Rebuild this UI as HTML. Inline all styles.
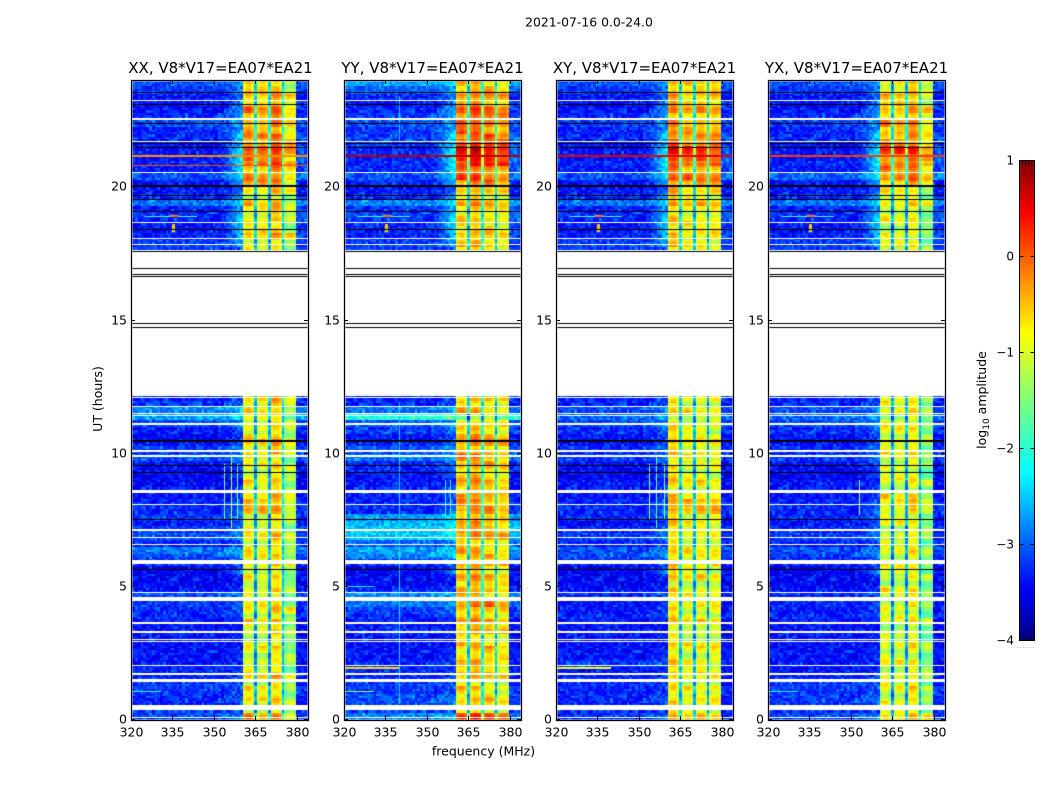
<!DOCTYPE html>
<html lang="en">
<head>
<meta charset="utf-8">
<title>2021-07-16 0.0-24.0 waterfall</title>
<style>
html,body{margin:0;padding:0;background:#fff;}
#figure{position:relative;width:1050px;height:800px;overflow:hidden;background:#fff;font-family:"DejaVu Sans","Liberation Sans",sans-serif;}
#figure canvas{position:absolute;display:block;}
#figure svg{position:absolute;left:0;top:0;}
text{font-family:"DejaVu Sans","Liberation Sans",sans-serif;fill:#000;}
</style>
</head>
<body>
<div id="figure">
<svg id="overlay" width="1050" height="800" viewBox="0 0 1050 800">
  <defs>
    <linearGradient id="jetGradient" x1="0" y1="1" x2="0" y2="0">
      <stop offset="0" stop-color="#00007f"/>
      <stop offset="0.11" stop-color="#0000ff"/>
      <stop offset="0.35" stop-color="#00ffff"/>
      <stop offset="0.5" stop-color="#7dff7a"/>
      <stop offset="0.64" stop-color="#ffff00"/>
      <stop offset="0.89" stop-color="#ff0000"/>
      <stop offset="1" stop-color="#7f0000"/>
    </linearGradient>
  </defs>
  <text x="589" y="26.5" font-size="12.4" text-anchor="middle">2021-07-16 0.0-24.0</text>
  <text x="483.5" y="755.5" font-size="12.5" text-anchor="middle">frequency (MHz)</text>
  <text x="102" y="399" font-size="12.5" text-anchor="middle" transform="rotate(-90 102 399)">UT (hours)</text>
  <text x="986" y="400" font-size="12.5" text-anchor="middle" transform="rotate(-90 986 400)">log<tspan font-size="9" dy="3">10</tspan><tspan dy="-3"> amplitude</tspan></text>
  <rect x="1019.5" y="160.5" width="15" height="480" fill="url(#jetGradient)" stroke="#000" stroke-width="1"/>
  <text x="1026" y="648" font-size="7" fill="#888" text-anchor="middle" style="fill:#888;letter-spacing:1px">......</text>
</svg>
</div>
<script>
/* ---------- axis ranges and tick labels ---------- */
var panelTitles = ["XX, V8*V17=EA07*EA21","YY, V8*V17=EA07*EA21","XY, V8*V17=EA07*EA21","YX, V8*V17=EA07*EA21"];
var panelNames = ["xx","yy","xy","yx"];
var freqTicks = [320,335,350,365,380];
var hourTicks = [0,5,10,15,20];
var colorbarTicks = [1,0,-1,-2,-3,-4];

/* ---------- background level per quarter hour (log10 amplitude), 96 rows from 0 UT ---------- */
var bgXX = [-2.9,-3.0,-3.1,-3.1, -3.0,-3.0,-3.1,-3.1, -3.2,-3.2,-3.2,-3.2, -3.2,-3.2,-3.2,-3.1, -3.1,-3.0,-2.9,-3.2, -3.3,-3.3,-3.3,-3.1,
 -2.9,-2.7,-3.1,-2.9, -3.0,-3.2,-3.0,-3.1, -3.1,-3.2,-3.2,-3.3, -3.3,-3.3,-3.2,-2.9, -3.0,-3.2,-3.3,-3.2, -2.9,-2.5,-2.6,-3.0, -3.1,-3.1,-3,-3,
 -3,-3,-3,-3, -3,-3,-3,-3, -3,-3,-3,-3, -3,-3,-3,-3, -3,-3,-3,-3, -3.1,-3.2,-3.2,-3.1, -3.1,-2.7,-3.1,-3.2, -3.2,-2.9,-3.2,-3.1, -3.2,-3.2,-3.2,-3.1, -3.1,-2.9,-3.1,-3.2, -3.2,-3.2,-3.0,-2.9];
var bgYY = [-2.6,-3.0,-2.9,-2.9, -3.0,-3.0,-3.1,-3.1, -3.1,-3.2,-3.2,-3.2, -3.2,-3.1,-3.2,-3.1, -3.0,-2.7,-2.6,-3.1, -3.3,-3.3,-3.3,-3.1,
 -2.6,-2.5,-2.8,-2.3, -2.3,-2.4,-2.5,-3.1, -3.1,-3.1,-3.1,-3.2, -3.2,-3.1,-3.1,-2.7, -2.9,-3.1,-3.2,-3.0, -2.8,-1.9,-2.7,-3.1, -3.1,-3,-3,-3,
 -3,-3,-3,-3, -3,-3,-3,-3, -3,-3,-3,-3, -3,-3,-3,-3, -3,-3,-3,-3, -3.1,-3.1,-3.1,-3.0, -3.0,-2.6,-3.1,-3.2, -3.1,-2.9,-3.1,-3.1, -3.1,-3.1,-3.0,-3.0, -3.0,-2.9,-3.0,-3.1, -3.2,-3.1,-2.8,-2.5];
var bgXY = [-3.0,-3.1,-3.1,-3.1, -3.1,-3.1,-3.1,-3.2, -3.0,-3.2,-3.2,-3.2, -3.2,-3.2,-3.2,-3.1, -3.2,-3.2,-3.1,-3.2, -3.3,-3.3,-3.3,-3.2,
 -2.9,-2.9,-3.1,-3.0, -3.1,-3.3,-3.1,-3.1, -3.1,-3.2,-3.2,-3.2, -3.3,-3.3,-3.2,-3.0, -3.1,-3.2,-3.2,-3.1, -2.9,-2.8,-2.9,-3.1, -3.1,-3,-3,-3,
 -3,-3,-3,-3, -3,-3,-3,-3, -3,-3,-3,-3, -3,-3,-3,-3, -3,-3,-3,-3, -3.1,-3.2,-3.2,-3.1, -3.1,-2.7,-3.1,-3.2, -3.2,-2.9,-3.2,-3.1, -3.2,-3.2,-3.2,-3.1, -3.1,-3.0,-3.1,-3.2, -3.2,-3.2,-3.0,-2.9];
var bgYX = [-2.9,-3.1,-3.0,-3.0, -3.0,-3.0,-3.1,-3.2, -3.2,-3.2,-3.2,-3.2, -3.2,-3.2,-3.2,-3.1, -3.2,-3.1,-3.1,-3.2, -3.3,-3.3,-3.3,-3.2,
 -3.0,-2.9,-3.1,-3.0, -3.1,-3.2,-3.1,-3.1, -3.1,-3.2,-3.2,-3.2, -3.3,-3.3,-3.2,-3.0, -3.1,-3.2,-3.2,-3.1, -2.9,-2.8,-2.9,-3.1, -3.1,-3,-3,-3,
 -3,-3,-3,-3, -3,-3,-3,-3, -3,-3,-3,-3, -3,-3,-3,-3, -3,-3,-3,-3, -3.1,-3.2,-3.2,-3.1, -3.1,-2.7,-3.1,-3.2, -3.2,-2.8,-3.2,-3.1, -3.2,-3.2,-3.2,-3.1, -3.1,-3.0,-3.1,-3.2, -3.2,-3.2,-3.0,-2.9];

/* ---------- band level per quarter hour, 96 rows from 0 UT ---------- */
var bandXX = [-.6,-1.0,-1.0,-.9, -.8,-1.0,-.8,-1.0, -1.0,-1.0,-1.0,-1.1, -1.0,-1.0,-.9,-1.0, -.7,-1.0,-1.0,-1.0, -1.0,-1.0,-.9,-.9,
 -.8,-.9,-.9,-.9, -.9,-1.0,-.9,-.7, -.5,-.8,-.9,-1.0, -.8,-.9,-.9,-.9, -.7,-.7,-.8,-.8, -1.0,-.9,-.8,-.7, -.9,-.9,-1,-1,
 -1,-1,-1,-1, -1,-1,-1,-1, -1,-1,-1,-1, -1,-1,-1,-1, -1,-1,-1,-.9, -.6,-.9,-.9,-.9, -.8,-.8,-.9,-.7, -.4,-.4,-.4,-.3, -.2,0,-.2,-.4, -.4,-.5,-.5,-.4, -.5,-.6,-.7,-.7];
var bandYY = [-.2,-.9,-.8,-.8, -.8,-.9,-.8,-.8, -.7,-.6,-.8,-.8, -.7,-.6,-.7,-.7, -.6,-.4,-.7,-.6, -.6,-.6,-.7,-.6,
 -.6,-.7,-.6,-.6, -.5,-.5,-.5,-.6, -.4,-.5,-.6,-.7, -.6,-.6,-.5,-.4, -.5,-.5,-.5,-.7, -.8,-1.3,-.7,-.7, -.9,-.9,-1,-1,
 -1,-1,-1,-1, -1,-1,-1,-1, -1,-1,-1,-1, -1,-1,-1,-1, -1,-1,-1,-.6, -.7,-.8,-.9,-.7, -.8,-.7,-.7,-.6, -.3,-.2,-.1,.0, .2,.3,.2,-.3, -.2,-.2,-.2,-.3, -.4,-.4,-.6,-.6];
var bandXY = [-.8,-.9,-.9,-.9, -.9,-.9,-.8,-.9, -.9,-.9,-.9,-.9, -.9,-.9,-.9,-.9, -.9,-.9,-.9,-.9, -.9,-.8,-.9,-.8,
 -.8,-.9,-.8,-.9, -.9,-.8,-.8,-.6, -.5,-.8,-.8,-.9, -.9,-.9,-.9,-.9, -.7,-.7,-.9,-.9, -1.0,-1.0,-.9,-.9, -.9,-.9,-1,-1,
 -1,-1,-1,-1, -1,-1,-1,-1, -1,-1,-1,-1, -1,-1,-1,-1, -1,-1,-1,-.8, -.8,-.8,-.8,-.8, -.7,-.7,-.7,-.6, -.3,-.3,-.3,-.1, 0,.1,0,-.4, -.4,-.5,-.5,-.5, -.5,-.6,-.6,-.6];
var bandYX = [-.7,-1.0,-1.0,-1.0, -.9,-1.0,-.9,-1.0, -1.0,-1.0,-1.0,-1.0, -1.0,-1.1,-1.0,-1.0, -1.0,-1.0,-1.0,-1.0, -1.0,-1.0,-1.0,-1.0,
 -1.0,-1.0,-1.0,-1.0, -1.0,-1.0,-.9,-.9, -.7,-.9,-1.0,-1.0, -1.0,-1.0,-1.0,-1.0, -.9,-.9,-1.0,-.9, -1.0,-1.0,-1.0,-.9, -1.0,-1.0,-1,-1,
 -1,-1,-1,-1, -1,-1,-1,-1, -1,-1,-1,-1, -1,-1,-1,-1, -1,-1,-1,-1.0, -1.0,-1.1,-1.1,-1.0, -.9,-.8,-.9,-.8, -.4,-.4,-.3,-.2, -.1,0,-.1,-.5, -.5,-.5,-.5,-.5, -.6,-.6,-.7,-.8];

/* ---------- rise of the background next to the band, per quarter hour ---------- */
var edgeRise = [.2,.1,.2,.2, .1,.1,.1,.1, .1,.1,.1,.1, .1,.1,.1,.1, .2,.2,.2,.1, .1,.2,.6,.3,
 .3,.3,.2,.3, .3,.3,.3,.3, .3,.3,.3,.2, .3,.3,.3,.3, .3,.3,.3,.3, .3,.4,.3,.2, .2,.2,0,0,
 0,0,0,0, 0,0,0,0, 0,0,0,0, 0,0,0,0, 0,0,0,.5, .7,.9,.9,.8, .6,.6,.6,.5, .6,.7,1.0,1.1, 1.2,1.1,.8,.9, .6,.5,.5,.7, .6,.4,.3,.4];
var edgeChannels = [33,34,35,36,37,38,39,40];
var edgeRamp = [.05,.15,.25,.4,.55,.7,.85,1];

/* ---------- spectral shape of the band, channels 41..59 (361..379 MHz) ---------- */
var bandShape = [-.15,0,0,-.2,-1.7,-.2,0,0,-.15,-1.6,-.15,0,0,-.2,-1.7,-.2,0,0,-.1];
var subbandXX = [.1,0,.1,-.3];
var subbandYY = [.1,.1,.1,-.1];
var subbandXY = [.05,0,0,-.2];
var subbandYX = [.05,0,0,-.35];

/* ---------- hand-read residual texture ---------- */
var speckle = [.2,-.4,.1,.5,-.2,-.5,.3,0,.7,-.3,-.1,.4,-.6,.2,.1,-.3,.5,-.4,.9,-.2,0,.3,-.5,.1,-.1,.6,-.3,.2,-.6,.4,0,-.2,.8,-.4,.1,.3,-.5,-.1,.5,-.3,.2,-.6,1.0,-.2,.1,-.4,.3,-.1,.6,-.5,0,.2,-.3,.4,-.2,.7,-.6,.1,-.1,.3,-.4];
var bandStreak = [.15,.25,.05,-.1,-.2,-.1,.1,.3,.2,-.05,-.2,-.25,0,.2,.05,-.15,-.2,.1,.3,.15,-.1,-.2,0];
var blockWobble = [.25,-.1,.1,-.25,.2,0,-.2,.3,-.15,.05,.2,-.2,.1,-.05,.25,-.25,.15,0,-.1,.2,-.2];

/* ---------- flagged (white) intervals in hours ---------- */
var whiteBands = [[.37,.56],[.07,.11],[1.44,1.52],[1.7,1.75],[2.03,2.08],[2.92,2.96],[3.01,3.05],[3.28,3.35],[3.61,3.66],[4.48,4.63],[4.76,4.8],[5.84,6.0],[6.55,6.6],[6.83,6.88],[7.1,7.15],[8.05,8.11],[8.53,8.61],[9.88,9.92],[10.05,10.13],[11.08,11.14],[11.39,11.43],[11.46,11.5],[11.72,11.77],[12.07,12.11],[12.15,17.62],[17.81,17.86],[18.02,18.07],[18.64,18.69],[20.52,20.56],[21.68,21.73],[22.51,22.56],[23.2,23.24]];
/* ---------- black rule lines in hours ---------- */
var blackLines = [5.67,7.55,9.3,9.56,10.49,14.75,14.9,16.65,16.72,16.95,17.58,18.43,19.1,19.54,19.68,20.06,21.5,21.63,22.4,23.1,23.55];
var thickBlackLines = [10.49,20.06];

/* ---------- narrow features: panel, first MHz, last MHz, first hour, last hour, level ---------- */
var featurePanel = [0,1,2,3,0, 0,0,0, 2,2,2, 1,1,1, 3, 0,1,2,3, 0,1,2,3, 0,1,2,3, 1,2,1,3, 0,1, 1];
var featureF0 = [320,320,320,320,320, 353.5,356,358.5, 353.5,356,359, 356.5,358.5,340, 353, 325,325,325,325, 334,334,334,334, 335,335,335,335, 320,320,320,320, 320,320, 340];
var featureF1 = [384,384,384,384,384, 353.5,356,358.5, 353.5,356,359, 356.5,358.5,340, 353, 344,344,344,344, 337,337,337,337, 336,336,336,336, 340,340,331,331, 331,331, 340];
var featureH0 = [21.13,21.13,21.13,21.13,20.76, 7.5,7.2,7.5, 7.5,7.2,7.5, 7.6,7.6,0.6, 7.7, 18.87,18.87,18.87,18.87, 18.85,18.85,18.85,18.85, 18.3,18.3,18.3,18.3, 1.93,1.93,1.05,1.05, 1.05,5.0, 21.75];
var featureH1 = [21.18,21.18,21.18,21.18,20.81, 9.6,9.9,9.6, 9.6,9.9,9.6, 9.0,9.0,11.9, 9.0, 18.9,18.9,18.9,18.9, 18.93,18.93,18.93,18.93, 18.6,18.6,18.6,18.6, 1.98,1.98,1.09,1.09, 1.09,5.04, 23.4];
var featureLevel = [-.3,.75,.5,.1,0, -1.5,-1.2,-1.5, -1.4,-1.6,-1.4, -1.9,-1.9,-2.3, -1.4, -1.8,-1.8,-1.8,-1.8, -.2,-.2,-.2,-.2, -.6,-.6,-.6,-.6, -.7,-.9,-1.4,-2.1, -1.9,-2.2, -2.3];

var bgOffset = -0.1;
var panelBg = [bgXX,bgYY,bgXY,bgYX];
var panelBand = [bandXX,bandYY,bandXY,bandYX];
var panelSub = [subbandXX,subbandYY,subbandXY,subbandYX];

/* ---------- layout and axis functions ---------- */
var panelLeft = [131,344,556,768];
var panelWidth = 177, plotTop = 80, plotBottom = 720;
var freqMin = 320, freqMax = 384, hourMax = 24;
var cbLeft = 1019.5, cbRight = 1034.5, cbTop = 160.5, cbBottom = 640.5;
var SVGNS = "http://www.w3.org/2000/svg";
var overlay = document.getElementById("overlay");
var figure = document.getElementById("figure");

function xScale(mhz){return (mhz-freqMin)/(freqMax-freqMin)*panelWidth;}
function yScale(h){return (plotBottom-plotTop)*(1-h/hourMax);}
function cbScale(v){return cbBottom-(v+4)/5*(cbBottom-cbTop);}
function clamp(a){return Math.max(0,Math.min(1,a));}
function jet(v){
  var t=clamp((v+4)/5);
  var r=clamp(Math.min(4*t-1.5,-4*t+4.5));
  var g=clamp(Math.min(4*t-0.5,-4*t+3.5));
  var b=clamp(Math.min(4*t+0.5,-4*t+2.5));
  return "rgb("+Math.round(r*255)+","+Math.round(g*255)+","+Math.round(b*255)+")";
}
function cellValue(p,c,fineRow,h){
  var q=Math.min(95,Math.floor(h/0.25));
  var n=speckle[(c*c*3+fineRow*fineRow*5+c*fineRow*2+c*11+fineRow*7)%speckle.length];
  if(c>=41&&c<=59){
    var i=c-41;
    var subIdx=Math.min(3,Math.floor(i/5));
    var w=blockWobble[(q*3+subIdx*5+p*2)%blockWobble.length];
    return panelBand[p][q]+bandShape[i]+panelSub[p][subIdx]+w+bandStreak[fineRow%bandStreak.length]*0.8+n*0.1;
  }
  var lvl=panelBg[p][q]+bgOffset+n*0.45;
  var e=edgeChannels.indexOf(c);
  if(e>=0){lvl+=edgeRise[q]*edgeRamp[e];}
  if(c>59){lvl+=edgeRise[q]*0.35-0.1;}
  return lvl;
}
function drawPanel(p){
  var cv=document.createElement("canvas");
  
  
  cv.width=panelWidth;cv.height=plotBottom-plotTop;
  cv.style.left=panelLeft[p]+"px";cv.style.top=plotTop+"px";
  figure.insertBefore(cv,overlay);
  var ctx=cv.getContext("2d");
  var dh=0.09;
  var rows=Math.ceil(hourMax/dh);
  for(var r=0;r<rows;r++){
    var h=r*dh;
    var y0=Math.round(yScale(h+dh)),y1=Math.round(yScale(h));
    for(var c=0;c<=64;c++){
      var x0=Math.max(0,Math.round(xScale(freqMin+c-0.5))),x1=Math.min(panelWidth,Math.round(xScale(freqMin+c+0.5)));
      ctx.fillStyle=jet(cellValue(p,c,r,h+dh/2));
      ctx.fillRect(x0,y0,x1-x0,y1-y0);
    }
  }
  for(var f=0;f<featurePanel.length;f++){
    if(featurePanel[f]!==p)continue;
    ctx.fillStyle=jet(featureLevel[f]);
    var fx0=Math.round(xScale(featureF0[f])),fx1=Math.max(fx0+1,Math.round(xScale(featureF1[f])));
    var fy0=Math.round(yScale(featureH1[f])),fy1=Math.max(fy0+1,Math.round(yScale(featureH0[f])));
    ctx.fillRect(fx0,fy0,fx1-fx0,fy1-fy0);
  }
  ctx.fillStyle="#fff";
  whiteBands.forEach(function(b){
    var a=Math.round(yScale(b[1])),e=Math.round(yScale(b[0]));
    ctx.fillRect(0,a,panelWidth,Math.max(1,e-a));
  });
  ctx.fillStyle="#000";
  blackLines.forEach(function(hv){
    var thick=thickBlackLines.indexOf(hv)>=0?2:1;
    ctx.fillRect(0,Math.round(yScale(hv)),panelWidth,thick);
  });
}
function svgEl(tag,attrs,txt){
  var el=document.createElementNS(SVGNS,tag);
  for(var k in attrs){el.setAttribute(k,attrs[k]);}
  if(txt!==undefined){el.textContent=txt;}
  overlay.appendChild(el);
  return el;
}
function drawAxes(p){
  var L=panelLeft[p],n=panelNames[p],R=L+panelWidth;
  var halo=svgEl("rect",{x:L+.5,y:plotTop+.5,width:panelWidth,height:plotBottom-plotTop,fill:"none",stroke:"#bbb","stroke-width":2});
  
  
  var frame=svgEl("rect",{x:L+.5,y:plotTop+.5,width:panelWidth,height:plotBottom-plotTop,fill:"none",stroke:"#000","stroke-width":1});
  
  
  var title=svgEl("text",{x:L+panelWidth/2+(p===0?1:0),y:73,"font-size":15,"text-anchor":"middle"},panelTitles[p]);
  
  
  freqTicks.forEach(function(t){
    var x=Math.round(L+xScale(t))+.5;
    var tb=svgEl("path",{d:"M"+x+" "+plotBottom+"V"+(plotBottom-4)+"M"+x+" "+plotTop+"V"+(plotTop+4),stroke:"#000","stroke-width":1,fill:"none"});
    
    
    var lb=svgEl("text",{x:x,y:736.5,"font-size":12.5,"text-anchor":"middle"},String(t));
    
    
  });
  hourTicks.forEach(function(t){
    var y=Math.floor(plotTop+yScale(t))+.5;
    if(t===0)y=plotBottom-.5;
    var tk=svgEl("path",{d:"M"+L+" "+y+"H"+(L+4)+"M"+R+" "+y+"H"+(R-4),stroke:"#000","stroke-width":1,fill:"none"});
    
    
    var lb=svgEl("text",{x:L-4,y:y+4,"font-size":12.5,"text-anchor":"end"},String(t));
    
    
  });
}
function drawColorbar(){
  colorbarTicks.forEach(function(v){
    var y=Math.floor(cbScale(v))+.5;
    if(v===1)y=160.5;
    var tk=svgEl("path",{d:"M"+cbLeft+" "+y+"h4M"+cbRight+" "+y+"h-4",stroke:"#000","stroke-width":1,fill:"none"});
    
    
    var lb=svgEl("text",{x:1014,y:y+4,"font-size":12,"text-anchor":"end"},String(v).replace("-","\u2212"));
    
    
  });
  [3,6,9,12].forEach(function(dx){
    var m=svgEl("path",{d:"M"+(cbLeft+dx)+" "+cbTop+"v4M"+(cbLeft+dx)+" "+cbBottom+"v-4",stroke:"#000","stroke-width":.8,fill:"none"});
    
    
  });
}
for(var p=0;p<4;p++){drawPanel(p);drawAxes(p);}
drawColorbar();
</script>
</body>
</html>
